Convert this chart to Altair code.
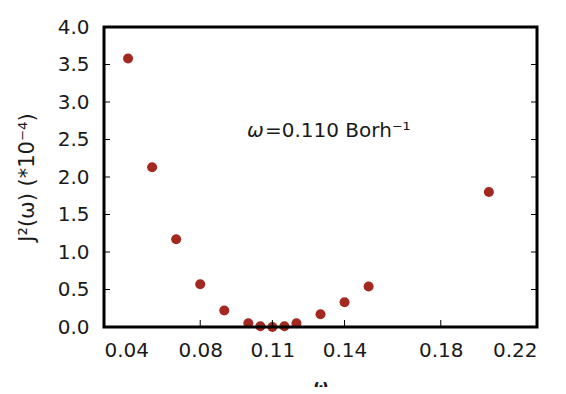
import altair as alt
import pandas as pd

omega = [0.05, 0.06, 0.07, 0.08, 0.09, 0.10, 0.105, 0.11, 0.115, 0.12, 0.13, 0.14, 0.15, 0.20]
j2 = [3.58, 2.13, 1.17, 0.57, 0.22, 0.05, 0.01, 0.0, 0.01, 0.05, 0.17, 0.33, 0.54, 1.80]
x_ticks = [0.04, 0.08, 0.11, 0.14, 0.18, 0.22]
y_ticks = [0.0, 0.5, 1.0, 1.5, 2.0, 2.5, 3.0, 3.5, 4.0]

W, H = 433, 300
FONT = "DejaVu Sans"

df = pd.DataFrame({"omega": omega, "j2": j2})
xt = pd.DataFrame({"omega": x_ticks})
yt = pd.DataFrame({"j2": y_ticks})

xs = alt.Scale(domain=[0.04, 0.22], nice=False, zero=False)
ys = alt.Scale(domain=[0, 4], nice=False)

x_axis = alt.Axis(values=x_ticks, format=".2f", ticks=False, domain=False, grid=False,
                  labelOverlap=False,
                  labelFont=FONT, labelFontSize=20, labelColor="#1a1a1a", labelPadding=13,
                  titleFont=FONT, titleFontSize=16, titleFontWeight="bold",
                  titleColor="#1a1a1a", titlePadding=17)
y_axis = alt.Axis(values=y_ticks, format=".1f", ticks=False, domain=False, grid=False,
                  labelOverlap=False,
                  labelFont=FONT, labelFontSize=20, labelColor="#1a1a1a", labelPadding=15,
                  titleFont=FONT, titleFontSize=21, titleFontWeight="normal",
                  titleColor="#1a1a1a", titlePadding=20)

X = alt.X("omega:Q", scale=xs, title="ω", axis=x_axis)
Y = alt.Y("j2:Q", scale=ys, title="J²(ω) (*10⁻⁴)", axis=y_axis)

points = alt.Chart(df).mark_circle(size=100, color="#A3281F", opacity=1).encode(x=X, y=Y)

xtick_rules = alt.Chart(xt).mark_rule(color="black", strokeWidth=1).encode(
    x=X, y=alt.value(H - 7), y2=alt.value(H)
)
ytick_left = alt.Chart(yt).mark_rule(color="black", strokeWidth=1).encode(
    y=Y, x=alt.value(0), x2=alt.value(6)
)
ytick_right = alt.Chart(yt).mark_rule(color="black", strokeWidth=1).encode(
    y=Y, x=alt.value(W - 6), x2=alt.value(W)
)

frame = alt.Chart(pd.DataFrame({"a": [0]})).mark_rect(
    fill=None, fillOpacity=0, stroke="black", strokeWidth=3
).encode(x=alt.value(0), x2=alt.value(W), y=alt.value(0), y2=alt.value(H))

ann_w = alt.Chart(pd.DataFrame({"t": ["ω"]})).mark_text(
    font=FONT, fontSize=20, fontStyle="italic", align="left", baseline="alphabetic", color="#1a1a1a"
).encode(text="t:N", x=alt.value(143), y=alt.value(110))
ann_rest = alt.Chart(pd.DataFrame({"t": ["=0.110 Borh⁻¹"]})).mark_text(
    font=FONT, fontSize=20, align="left", baseline="alphabetic", color="#1a1a1a"
).encode(text="t:N", x=alt.value(161), y=alt.value(110))

chart = alt.layer(points, xtick_rules, ytick_left, ytick_right, frame, ann_w, ann_rest).properties(
    width=W, height=H,
    autosize=alt.AutoSizeParams(type="none"),
    padding={"left": 96, "top": 19, "right": 20, "bottom": 60},
).configure_view(strokeWidth=0).configure_axis(labelOverlap=False).configure(background="white")

chart.save("out.html", embed_options={"renderer": "svg", "actions": False})
